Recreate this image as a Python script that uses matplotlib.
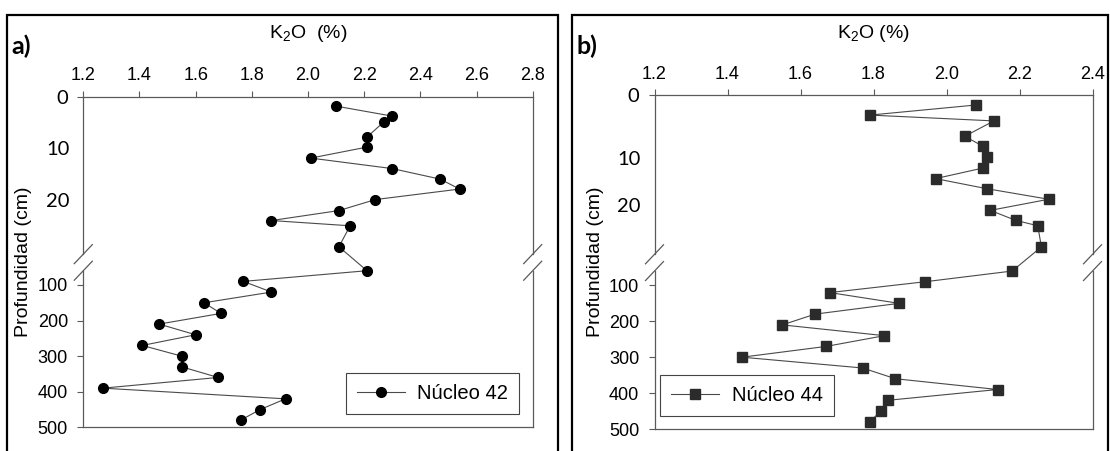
import numpy as np
import matplotlib
matplotlib.use('Agg')
import matplotlib.pyplot as plt
from matplotlib.patches import Rectangle
from matplotlib.lines import Line2D

plt.rcParams['font.family'] = ['Liberation Sans', 'DejaVu Sans']
plt.rcParams['mathtext.fontset'] = 'custom'
plt.rcParams['mathtext.rm'] = 'Liberation Sans'

# profundidad de las muestras (cm), iguales en los dos nucleos
depth = [1.8, 3.7, 4.8, 7.7, 9.6, 11.7, 13.7, 15.7, 17.6, 19.6, 21.7, 23.6, 24.6, 28.6,
         60, 90, 120, 150, 180, 210, 240, 270, 300, 330, 360, 390, 420, 450, 480]

k2o_42 = [2.10, 2.30, 2.27, 2.21, 2.21, 2.01, 2.30, 2.47, 2.54, 2.24, 2.11, 1.87, 2.15, 2.11,
          2.21, 1.77, 1.87, 1.63, 1.69, 1.47, 1.60, 1.41, 1.55, 1.55, 1.68, 1.27, 1.92, 1.83, 1.76]
k2o_44 = [2.08, 1.79, 2.13, 2.05, 2.10, 2.11, 2.10, 1.97, 2.11, 2.28, 2.12, 2.19, 2.25, 2.26,
          2.18, 1.94, 1.68, 1.87, 1.64, 1.55, 1.83, 1.67, 1.44, 1.77, 1.86, 2.14, 1.84, 1.82, 1.79]

xticks_a = [1.2, 1.4, 1.6, 1.8, 2.0, 2.2, 2.4, 2.6, 2.8]
xticks_b = [1.2, 1.4, 1.6, 1.8, 2.0, 2.2, 2.4]
yticks = [0, 100, 200, 300, 400, 500]

# eje de profundidad cortado: 0-30 cm expandido, 60-500 cm comprimido
BRK_TOP, BRK_BOT = 30, 60
d_pts = [-1000, 0, BRK_TOP, BRK_BOT, 500, 5000]
u_pts = [-1000, 0, 30, 33.16, 63.0, 63.0 + 4500 * 0.0678]


def fwd(d):
    return np.interp(d, d_pts, u_pts)


def inv(u):
    return np.interp(u, u_pts, d_pts)


W, H = 1110, 451
fig = plt.figure(figsize=(W / 100, H / 100), dpi=100)

spine_c = '#5a5a5a'


def panel(rect, x, xticks, marker, mcolor, ms, label, title, leg_loc, leg_anchor,
          small_labels):
    ax = fig.add_axes(rect)
    ax.set_yscale('function', functions=(fwd, inv))
    ax.plot(x, depth, color='#4a4a4a', lw=0.8, marker=marker, ms=ms,
            mfc=mcolor, mec=mcolor, label=label)
    ax.set_xlim(xticks[0], xticks[-1])
    ax.set_ylim(500, 0)
    ax.xaxis.tick_top()
    ax.set_xticks(xticks)
    ax.set_xticklabels(['%.1f' % v for v in xticks])
    ax.set_yticks(yticks)
    ax.set_yticklabels([str(v) for v in yticks])
    ax.yaxis.set_minor_locator(plt.NullLocator())
    ax.tick_params(axis='both', direction='out', length=4, width=0.8, color=spine_c,
                   labelsize=13)
    ax.tick_params(axis='x', pad=5)
    ax.tick_params(axis='y', pad=7)
    ax.get_yticklabels()[0].set_fontfamily('Lato')
    ax.get_yticklabels()[0].set_fontsize(14.5)

    for s in ['left', 'right']:
        ax.spines[s].set_visible(False)
    for s in ['top', 'bottom']:
        ax.spines[s].set_color(spine_c)
        ax.spines[s].set_linewidth(0.9)

    # ejes verticales con el corte
    top_f = 1 - fwd(BRK_TOP) / fwd(500)
    bot_f = 1 - fwd(BRK_BOT) / fwd(500)
    bb = ax.get_position()
    dx = 9 / (bb.width * W)
    dy = 9.5 / (bb.height * H)
    for xs in [0, 1]:
        ax.add_line(Line2D([xs, xs], [1, top_f], transform=ax.transAxes,
                           color=spine_c, lw=0.9, clip_on=False))
        ax.add_line(Line2D([xs, xs], [bot_f, 0], transform=ax.transAxes,
                           color=spine_c, lw=0.9, clip_on=False))
        for yf in [top_f, bot_f]:
            ax.add_line(Line2D([xs - dx, xs + dx], [yf - dy, yf + dy],
                               transform=ax.transAxes, color=spine_c, lw=0.9,
                               clip_on=False))

    for val, pos in small_labels:
        ax.annotate(val, xy=(0, pos), xycoords=('axes fraction', 'data'),
                    xytext=(-10, 0), textcoords='offset points', ha='right',
                    va='center', fontsize=14.5, family='Lato')

    ax.set_ylabel('Profundidad (cm)', fontsize=14)
    ax.yaxis.set_label_coords(-51 / (bb.width * W), 0.5)
    cx = bb.x0 + bb.width / 2
    fig.text(cx, 1 - 33 / H, title, fontsize=14, ha='center', va='center')

    leg = ax.legend(loc=leg_loc, bbox_to_anchor=leg_anchor, borderaxespad=0,
                    fancybox=False, edgecolor='#444444', framealpha=1, fontsize=14.5,
                    handlelength=2.4, borderpad=0.55, handletextpad=0.6)
    leg.get_frame().set_linewidth(0.8)
    return ax


ax_a = panel([83.3 / W, 1 - 427.3 / H, 449.4 / W, 330.6 / H], k2o_42, xticks_a,
             'o', 'black', 7, 'Núcleo 42', 'K$_2$O  (%)', 'lower right', (0.9695, 0.040),
             [('10', 10), ('20', 20)])
ax_b = panel([654.5 / W, 1 - 429.0 / H, 438.0 / W, 333.5 / H], k2o_44, xticks_b,
             's', '#2b2b2b', 6.5, 'Núcleo 44', 'K$_2$O (%)', 'lower left', (0.0126, 0.039),
             [('10', 12), ('20', 21)])

# marcos de cada panel
for x0, x1 in [(7, 558), (572, 1108)]:
    fig.patches.append(Rectangle((x0 / W, -0.05), (x1 - x0) / W, 1.05 - 15 / H,
                                 transform=fig.transFigure, fill=False,
                                 edgecolor='black', lw=1.6))

fig.text(11 / W, 1 - 46 / H, 'a)', fontsize=18, fontweight='bold', family='Lato',
         va='center', ha='left')
fig.text(577 / W, 1 - 46 / H, 'b)', fontsize=18, fontweight='bold', family='Lato',
         va='center', ha='left')

fig.savefig('out.png', dpi=100)
